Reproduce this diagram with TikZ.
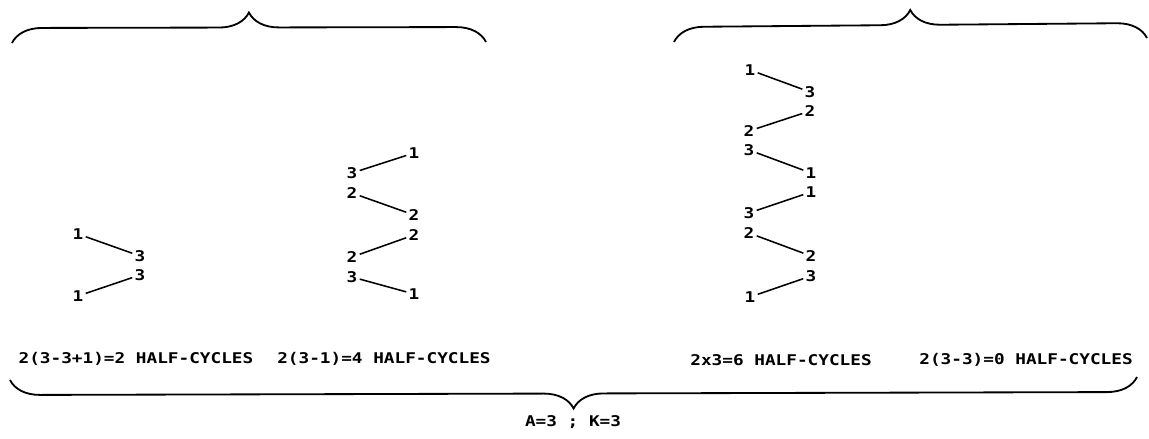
\documentclass[tikz,border=0pt]{standalone}
\usepackage{fontspec}
\newfontfamily\plotfont[FakeStretch=1.2]{DejaVu Sans Mono}
\usetikzlibrary{decorations.pathreplacing}

\begin{document}
\begin{tikzpicture}[
    x=0.025cm, y=-0.025cm,
    font=\plotfont\bfseries\fontsize{10.5}{12}\selectfont,
    digit/.style={inner sep=1.5pt},
    legende/.style={inner sep=0pt},
    trait/.style={line width=1.1pt},
    accolade/.style={
        line width=1.3pt,
        decorate,
        decoration={brace, amplitude=0.75cm}
    }
]
    \useasboundingbox (0,0) rectangle (1149,439);

    % groupe de gauche
    \node[digit] (a1) at (78,234) {1};
    \node[digit] (a2) at (140,256) {3};
    \node[digit] (a3) at (140,275) {3};
    \node[digit] (a4) at (78,296) {1};
    \draw[trait] (a1) -- (a2);
    \draw[trait] (a3) -- (a4);

    \node[digit] (b1) at (414,153) {1};
    \node[digit] (b2) at (352,173) {3};
    \node[digit] (b3) at (352,193) {2};
    \node[digit] (b4) at (414,215) {2};
    \node[digit] (b5) at (414,235) {2};
    \node[digit] (b6) at (352,257) {2};
    \node[digit] (b7) at (352,277) {3};
    \node[digit] (b8) at (414,294) {1};
    \draw[trait] (b2) -- (b1);
    \draw[trait] (b3) -- (b4);
    \draw[trait] (b6) -- (b5);
    \draw[trait] (b7) -- (b8);

    % groupe de droite
    \node[digit] (c1) at (750,70) {1};
    \node[digit] (c2) at (810,92) {3};
    \node[digit] (c3) at (810,111) {2};
    \node[digit] (c4) at (749,131) {2};
    \node[digit] (c5) at (749,150) {3};
    \node[digit] (c6) at (811,173) {1};
    \node[digit] (c7) at (811,192) {1};
    \node[digit] (c8) at (749,213) {3};
    \node[digit] (c9) at (749,233) {2};
    \node[digit] (c10) at (811,256) {2};
    \node[digit] (c11) at (811,276) {3};
    \node[digit] (c12) at (750,297) {1};
    \draw[trait] (c1) -- (c2);
    \draw[trait] (c3) -- (c4);
    \draw[trait] (c5) -- (c6);
    \draw[trait] (c7) -- (c8);
    \draw[trait] (c9) -- (c10);
    \draw[trait] (c11) -- (c12);

    \node[legende] (t1) at (136,359) {2(3-3+1)=2 HALF-CYCLES};
    \node[legende] (t2) at (384,359) {2(3-1)=4 HALF-CYCLES};
    \node[legende] (t3) at (781,360) {2x3=6 HALF-CYCLES};
    \node[legende] (t4) at (1026,360) {2(3-3)=0 HALF-CYCLES};

    \draw[accolade] (12,43) -- (486,42);
    \draw[accolade] (674,42) -- (1147,38);
    \draw[accolade] (1137,377) -- (10,380);

    \node[legende] (bilan) at (573,422) {A=3 ; K=3};
\end{tikzpicture}
\end{document}
